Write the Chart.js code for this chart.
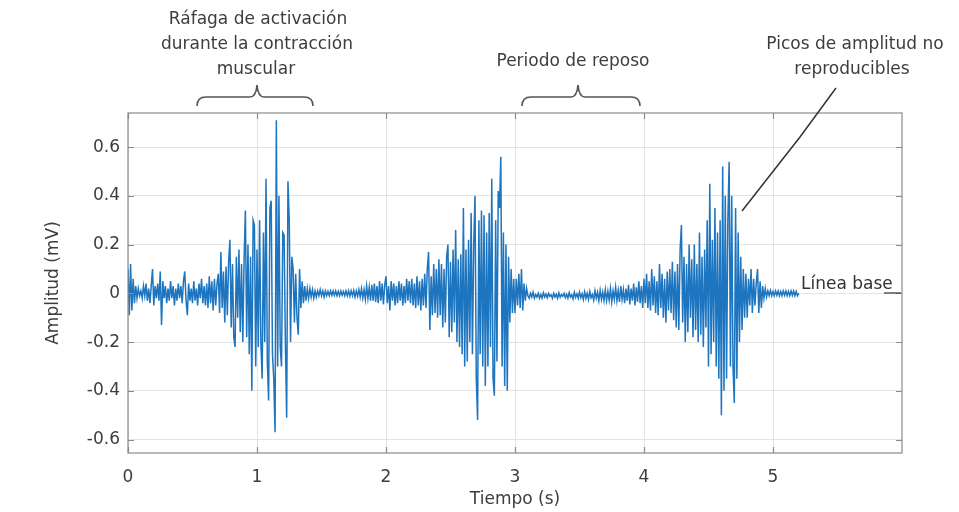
<!DOCTYPE html>
<html><head><meta charset="utf-8">
<script src="https://cdn.jsdelivr.net/npm/chart.js@4.4.1/dist/chart.umd.min.js"></script>
<style>html,body{margin:0;padding:0;background:#fff}#wrap{width:959px;height:512px}</style>
</head><body><div id="wrap"><canvas id="c" width="959" height="512"></canvas></div>
<script>
// Sample times (s)
const sampleTimes = [
0.00,0.01,0.02,0.03,0.04,0.05,0.06,0.07,0.08,0.09,
0.10,0.11,0.12,0.13,0.14,0.15,0.16,0.17,0.18,0.19,
0.20,0.21,0.22,0.23,0.24,0.25,0.26,0.27,0.28,0.29,
0.30,0.31,0.32,0.33,0.34,0.35,0.36,0.37,0.38,0.39,
0.40,0.41,0.42,0.43,0.44,0.45,0.46,0.47,0.48,0.49,
0.50,0.51,0.52,0.53,0.54,0.55,0.56,0.57,0.58,0.59,
0.60,0.61,0.62,0.63,0.64,0.65,0.66,0.67,0.68,0.69,
0.70,0.71,0.72,0.73,0.74,0.75,0.76,0.77,0.78,0.79,
0.80,0.81,0.82,0.83,0.84,0.85,0.86,0.87,0.88,0.89,
0.90,0.91,0.92,0.93,0.94,0.95,0.96,0.97,0.98,0.99,
1.00,1.01,1.02,1.03,1.04,1.05,1.06,1.07,1.08,1.09,
1.10,1.11,1.12,1.13,1.14,1.15,1.16,1.17,1.18,1.19,
1.20,1.21,1.22,1.23,1.24,1.25,1.26,1.27,1.28,1.29,
1.30,1.31,1.32,1.33,1.34,1.35,1.36,1.37,1.38,1.39,
1.40,1.41,1.42,1.43,1.44,1.45,1.46,1.47,1.48,1.49,
1.50,1.51,1.52,1.53,1.54,1.55,1.56,1.57,1.58,1.59,
1.60,1.61,1.62,1.63,1.64,1.65,1.66,1.67,1.68,1.69,
1.70,1.71,1.72,1.73,1.74,1.75,1.76,1.77,1.78,1.79,
1.80,1.81,1.82,1.83,1.84,1.85,1.86,1.87,1.88,1.89,
1.90,1.91,1.92,1.93,1.94,1.95,1.96,1.97,1.98,1.99,
2.00,2.01,2.02,2.03,2.04,2.05,2.06,2.07,2.08,2.09,
2.10,2.11,2.12,2.13,2.14,2.15,2.16,2.17,2.18,2.19,
2.20,2.21,2.22,2.23,2.24,2.25,2.26,2.27,2.28,2.29,
2.30,2.31,2.32,2.33,2.34,2.35,2.36,2.37,2.38,2.39,
2.40,2.41,2.42,2.43,2.44,2.45,2.46,2.47,2.48,2.49,
2.50,2.51,2.52,2.53,2.54,2.55,2.56,2.57,2.58,2.59,
2.60,2.61,2.62,2.63,2.64,2.65,2.66,2.67,2.68,2.69,
2.70,2.71,2.72,2.73,2.74,2.75,2.76,2.77,2.78,2.79,
2.80,2.81,2.82,2.83,2.84,2.85,2.86,2.87,2.88,2.89,
2.90,2.91,2.92,2.93,2.94,2.95,2.96,2.97,2.98,2.99,
3.00,3.01,3.02,3.03,3.04,3.05,3.06,3.07,3.08,3.09,
3.10,3.11,3.12,3.13,3.14,3.15,3.16,3.17,3.18,3.19,
3.20,3.21,3.22,3.23,3.24,3.25,3.26,3.27,3.28,3.29,
3.30,3.31,3.32,3.33,3.34,3.35,3.36,3.37,3.38,3.39,
3.40,3.41,3.42,3.43,3.44,3.45,3.46,3.47,3.48,3.49,
3.50,3.51,3.52,3.53,3.54,3.55,3.56,3.57,3.58,3.59,
3.60,3.61,3.62,3.63,3.64,3.65,3.66,3.67,3.68,3.69,
3.70,3.71,3.72,3.73,3.74,3.75,3.76,3.77,3.78,3.79,
3.80,3.81,3.82,3.83,3.84,3.85,3.86,3.87,3.88,3.89,
3.90,3.91,3.92,3.93,3.94,3.95,3.96,3.97,3.98,3.99,
4.00,4.01,4.02,4.03,4.04,4.05,4.06,4.07,4.08,4.09,
4.10,4.11,4.12,4.13,4.14,4.15,4.16,4.17,4.18,4.19,
4.20,4.21,4.22,4.23,4.24,4.25,4.26,4.27,4.28,4.29,
4.30,4.31,4.32,4.33,4.34,4.35,4.36,4.37,4.38,4.39,
4.40,4.41,4.42,4.43,4.44,4.45,4.46,4.47,4.48,4.49,
4.50,4.51,4.52,4.53,4.54,4.55,4.56,4.57,4.58,4.59,
4.60,4.61,4.62,4.63,4.64,4.65,4.66,4.67,4.68,4.69,
4.70,4.71,4.72,4.73,4.74,4.75,4.76,4.77,4.78,4.79,
4.80,4.81,4.82,4.83,4.84,4.85,4.86,4.87,4.88,4.89,
4.90,4.91,4.92,4.93,4.94,4.95,4.96,4.97,4.98,4.99,
5.00,5.01,5.02,5.03,5.04,5.05,5.06,5.07,5.08,5.09,
5.10,5.11,5.12,5.13,5.14,5.15,5.16,5.17,5.18,5.19,
5.20];

// Amplitude (mV)
const amplitude = [
0.10,-0.09,0.12,-0.07,0.06,-0.04,0.03,-0.02,0.02,-0.01,
0.01,-0.02,0.03,-0.01,0.04,-0.03,0.02,-0.04,0.03,0.10,
-0.05,0.03,-0.02,0.04,-0.03,0.09,-0.13,0.05,-0.02,0.03,
-0.04,0.02,-0.03,0.05,-0.02,0.03,-0.05,0.02,-0.03,0.04,
-0.02,0.03,-0.04,0.05,0.09,-0.03,-0.09,0.04,-0.03,0.02,
-0.04,0.05,-0.03,0.02,-0.05,0.04,-0.02,0.06,-0.04,0.03,
-0.05,0.04,-0.06,0.07,-0.04,0.05,-0.07,0.06,-0.05,0.04,
0.08,-0.08,0.17,-0.06,0.09,-0.12,0.11,-0.09,0.13,0.22,
-0.14,0.12,-0.18,-0.22,0.15,-0.10,0.18,-0.16,0.12,-0.20,
0.14,0.34,-0.18,0.20,-0.25,0.15,-0.40,0.30,0.28,-0.30,
0.18,-0.22,0.30,-0.20,-0.35,0.25,-0.20,0.47,-0.28,-0.44,
0.35,0.38,-0.25,-0.35,-0.57,0.71,-0.30,0.40,-0.22,-0.30,
0.25,0.24,-0.20,-0.51,0.46,0.30,-0.20,0.15,0.10,-0.12,
0.08,-0.10,-0.17,0.10,-0.06,0.05,-0.04,0.03,-0.03,0.02,
-0.02,0.02,-0.015,0.015,-0.02,0.01,-0.015,0.01,-0.01,0.015,
-0.01,0.01,-0.015,0.01,-0.01,0.008,-0.01,0.01,-0.008,0.01,
-0.008,0.01,-0.01,0.008,-0.01,0.01,-0.008,0.008,-0.01,0.01,
-0.01,0.01,-0.012,0.01,-0.01,0.012,-0.015,0.01,-0.012,0.015,
-0.015,0.02,-0.02,0.015,-0.025,0.03,-0.02,0.025,-0.03,0.035,
-0.03,0.04,-0.035,0.03,-0.04,0.05,-0.03,0.04,-0.045,0.035,
0.07,-0.04,0.03,-0.07,0.05,-0.03,0.04,-0.05,0.03,-0.04,
0.05,-0.03,0.04,-0.05,0.03,-0.04,0.06,-0.03,0.05,-0.04,
0.06,-0.05,0.04,-0.06,0.07,-0.05,0.05,-0.07,0.06,-0.05,
0.08,-0.06,0.10,0.17,-0.15,0.07,-0.09,0.12,-0.08,0.10,
-0.10,0.14,-0.09,0.12,-0.14,0.10,-0.12,0.15,0.20,-0.18,
0.13,-0.16,0.18,-0.12,0.26,-0.20,0.14,-0.22,0.16,-0.25,
0.35,-0.30,0.18,-0.28,0.22,-0.20,0.33,-0.25,0.20,0.40,
-0.35,-0.52,0.30,-0.25,0.34,-0.30,0.32,-0.38,0.25,-0.30,
0.33,-0.22,0.47,-0.35,-0.42,0.30,-0.28,0.42,0.35,0.56,
-0.30,0.25,-0.38,0.20,-0.40,0.15,-0.12,0.10,-0.08,0.06,
-0.08,0.06,-0.05,0.08,-0.06,0.10,-0.07,0.04,-0.03,0.02,
-0.01,-0.02,0.00,-0.015,0.005,-0.02,-0.005,-0.015,0.00,-0.02,
-0.005,-0.02,0.002,-0.015,-0.003,-0.018,0.00,-0.012,-0.006,-0.02,
0.00,-0.015,-0.004,-0.02,0.002,-0.016,-0.005,-0.012,0.00,-0.018,
-0.004,-0.02,0.003,-0.015,-0.006,-0.022,0.004,-0.016,-0.002,-0.02,
0.005,-0.018,-0.002,-0.025,0.006,-0.02,0.00,-0.025,0.008,-0.018,
-0.005,-0.028,0.01,-0.02,0.004,-0.03,0.012,-0.025,0.005,-0.03,
0.015,-0.03,0.008,-0.028,0.02,-0.035,0.01,-0.025,0.025,-0.03,
0.012,-0.035,0.03,-0.025,0.015,-0.04,0.02,-0.03,0.035,-0.045,
0.02,-0.03,0.04,-0.05,0.025,-0.035,0.05,-0.04,0.03,-0.06,
0.06,-0.04,0.08,-0.06,0.05,-0.07,0.10,-0.05,0.07,-0.08,
0.05,-0.09,0.12,-0.06,0.08,-0.10,0.06,-0.12,0.09,-0.07,
0.10,-0.08,0.13,-0.11,0.09,-0.14,0.12,-0.15,0.18,0.28,
-0.12,0.15,-0.20,0.12,-0.16,0.20,-0.10,0.14,-0.18,0.20,
-0.15,0.12,-0.20,0.25,-0.17,0.15,-0.22,0.18,-0.14,0.30,
-0.30,0.45,-0.25,0.22,-0.20,0.35,-0.30,0.25,-0.35,0.30,
-0.50,0.52,-0.40,0.40,-0.35,0.30,0.54,-0.30,0.40,-0.30,
-0.45,0.35,-0.35,0.25,-0.20,0.15,-0.15,0.10,-0.10,0.08,
-0.10,0.06,-0.05,0.10,-0.08,0.06,-0.05,0.04,0.10,-0.08,
0.05,-0.06,0.03,-0.02,0.02,-0.015,0.01,-0.01,0.012,-0.01,
0.008,-0.01,0.01,-0.008,0.01,-0.01,0.008,-0.01,0.01,-0.008,
0.01,-0.01,0.008,-0.01,0.01,-0.008,0.01,-0.01,0.008,-0.01,
0.00];

const xTickValues = [0, 1, 2, 3, 4, 5];
const yTickValues = [-0.6, -0.4, -0.2, 0, 0.2, 0.4, 0.6];
const xAxisTitle = 'Tiempo (s)';
const yAxisTitle = 'Amplitud (mV)';
const burstLabel = ['Ráfaga de activación', 'durante la contracción', 'muscular'];
const restLabel = ['Periodo de reposo'];
const peaksLabel = ['Picos de amplitud no', 'reproducibles'];
const baselineLabel = 'Línea base';

const FONT = 'DejaVu Sans';
const TEXT = '#3d3d3d';

const frame = {
  id: 'frame',
  afterDraw(chart) {
    const {ctx, chartArea: a, scales: {x, y}} = chart;
    ctx.save();
    // box
    ctx.strokeStyle = '#8a8a8a';
    ctx.lineWidth = 1.2;
    ctx.strokeRect(a.left, a.top, a.right - a.left, a.bottom - a.top);
    // inward ticks
    ctx.beginPath();
    xTickValues.forEach(v => {
      const px = Math.round(x.getPixelForValue(v)) + 0.5;
      ctx.moveTo(px, a.bottom); ctx.lineTo(px, a.bottom - 6);
      ctx.moveTo(px, a.top); ctx.lineTo(px, a.top + 6);
    });
    yTickValues.forEach(v => {
      const py = Math.round(y.getPixelForValue(v)) + 0.5;
      ctx.moveTo(a.left, py); ctx.lineTo(a.left + 6, py);
      ctx.moveTo(a.right, py); ctx.lineTo(a.right - 6, py);
    });
    ctx.stroke();

    // annotations
    ctx.fillStyle = TEXT;
    ctx.textAlign = 'center';
    ctx.textBaseline = 'middle';
    ctx.font = '17px "' + FONT + '"';
    ctx.fillText(burstLabel[0], 258, 20);
    ctx.fillText(burstLabel[1], 257, 45);
    ctx.fillText(burstLabel[2], 256, 70);
    ctx.fillText(restLabel[0], 573, 62);
    ctx.fillText(peaksLabel[0], 855, 45);
    ctx.fillText(peaksLabel[1], 852, 70);

    // braces
    const brace = (x1, x2, xm) => {
      const yB = 106, yT = 97, yTip = 85;
      ctx.beginPath();
      ctx.moveTo(x1, yB);
      ctx.quadraticCurveTo(x1, yT, x1 + 9, yT);
      ctx.lineTo(xm - 7, yT);
      ctx.quadraticCurveTo(xm - 1, yT, xm, yTip);
      ctx.quadraticCurveTo(xm + 1, yT, xm + 7, yT);
      ctx.lineTo(x2 - 9, yT);
      ctx.quadraticCurveTo(x2, yT, x2, yB);
      ctx.stroke();
    };
    ctx.strokeStyle = '#555';
    ctx.lineWidth = 1.6;
    brace(197, 313, 257);
    brace(522, 640, 578);

    // pointer to peaks
    ctx.strokeStyle = '#333';
    ctx.lineWidth = 1.5;
    ctx.beginPath();
    ctx.moveTo(836, 88);
    ctx.lineTo(800, 137);
    ctx.lineTo(742, 211);
    ctx.stroke();

    // baseline label
    ctx.fillStyle = '#333';
    ctx.textAlign = 'left';
    ctx.font = '17px "' + FONT + '"';
    ctx.fillText(baselineLabel, 801, 285);
    ctx.lineWidth = 1.2;
    ctx.beginPath();
    ctx.moveTo(884, 293); ctx.lineTo(901, 293);
    ctx.stroke();
    ctx.restore();
  }
};

new Chart(document.getElementById('c'), {
  type: 'line',
  data: {
    datasets: [{
      data: sampleTimes.map((t, i) => ({x: t, y: amplitude[i]})),
      borderColor: '#1d74bf',
      borderWidth: 1.5,
      pointRadius: 0,
      tension: 0,
      fill: false
    }]
  },
  options: {
    responsive: false,
    animation: false,
    events: [],
    layout: {padding: {left: 39, right: 57, top: 113, bottom: 0}},
    plugins: {legend: {display: false}, tooltip: {enabled: false}},
    scales: {
      x: {
        type: 'linear', min: 0, max: 6,
        afterBuildTicks: s => { s.ticks = xTickValues.map(v => ({value: v})); },
        afterFit: s => { s.height = 59; },
        grid: {color: '#e4e4e4', drawTicks: false, tickLength: 0},
        border: {display: false},
        ticks: {padding: 14, color: TEXT, font: {family: FONT, size: 17}, callback: v => String(v), maxRotation: 0},
        title: {display: true, text: xAxisTitle, color: TEXT, font: {family: FONT, size: 17}, padding: {top: 0, bottom: 2}}
      },
      y: {
        type: 'linear', min: -0.655, max: 0.74,
        afterBuildTicks: s => { s.ticks = yTickValues.map(v => ({value: v})); },
        afterFit: s => { s.width = 89; },
        grid: {color: '#e4e4e4', drawTicks: false, tickLength: 0},
        border: {display: false},
        ticks: {padding: 8, color: TEXT, font: {family: FONT, size: 17}, callback: v => String(v)},
        title: {display: true, text: yAxisTitle, color: TEXT, font: {family: FONT, size: 17}, padding: {top: 4, bottom: 4}}
      }
    }
  },
  plugins: [frame]
});
</script>
</body></html>
